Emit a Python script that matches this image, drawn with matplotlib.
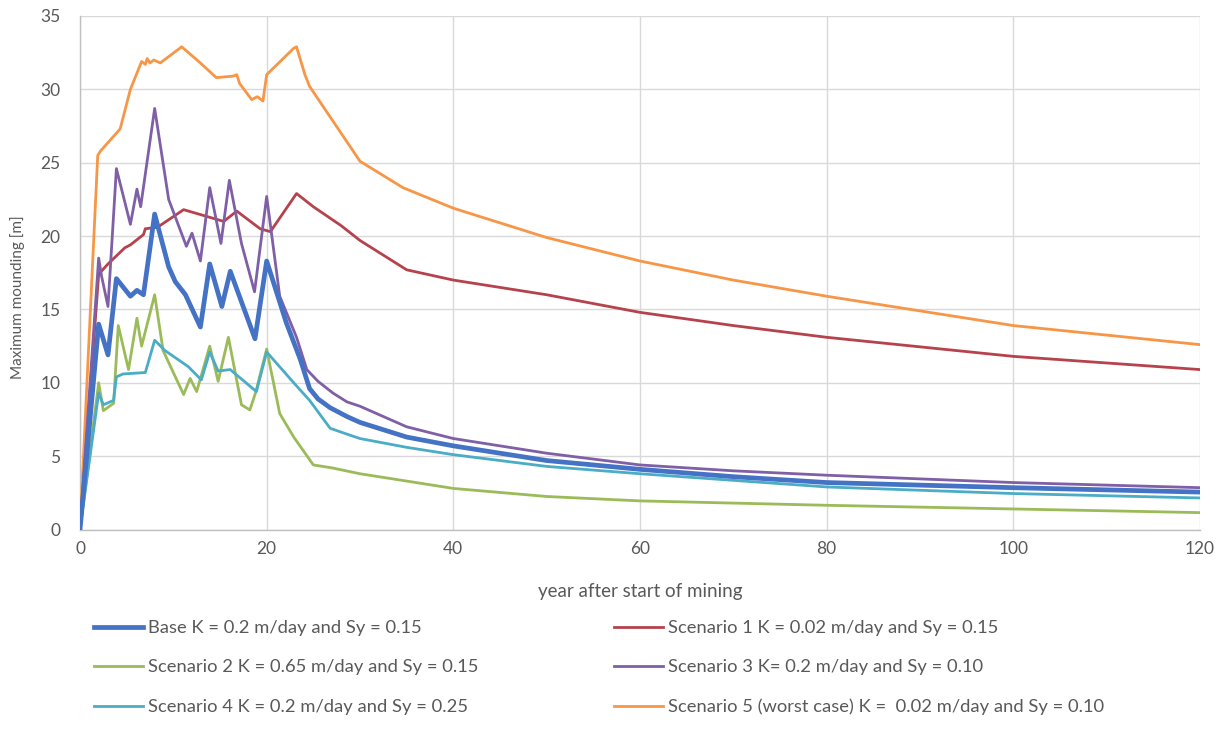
import matplotlib
matplotlib.use("Agg")
import matplotlib.pyplot as plt
from matplotlib.lines import Line2D

# ---------------- data ----------------
base_x = [0, 2.0, 3.0, 3.9, 5.4, 6.1, 6.8, 8.0, 9.5, 10.2, 11.3, 12.9, 13.9, 15.2, 16.1, 18.75, 20.0, 22.1, 23.6, 24.6, 25.5, 26.8, 28.6, 30, 35, 40, 50, 60, 70, 80, 100, 120]
base_y = [0, 14.0, 11.9, 17.1, 15.9, 16.3, 16.0, 21.5, 17.9, 16.9, 16.0, 13.8, 18.1, 15.2, 17.6, 13.0, 18.3, 14.1, 11.6, 9.6, 8.9, 8.3, 7.7, 7.3, 6.3, 5.7, 4.7, 4.1, 3.6, 3.2, 2.85, 2.55]

s1_x = [0, 2.0, 3.0, 4.8, 5.4, 6.8, 7.0, 8.3, 11.1, 15.4, 16.8, 19.3, 20.4, 23.2, 25, 28, 30, 35, 40, 50, 60, 70, 80, 100, 120]
s1_y = [0, 17.4, 18.1, 19.2, 19.4, 20.1, 20.5, 20.6, 21.8, 21.0, 21.7, 20.5, 20.3, 22.9, 22.0, 20.7, 19.7, 17.7, 17.0, 16.0, 14.8, 13.9, 13.1, 11.8, 10.9]

s2_x = [0, 2.0, 2.5, 3.6, 4.1, 5.2, 6.1, 6.6, 8.0, 8.9, 11.1, 11.8, 12.5, 13.9, 14.8, 15.9, 17.3, 18.2, 18.8, 20.0, 21.4, 22.9, 25, 27, 30, 35, 40, 50, 60, 70, 80, 100, 120]
s2_y = [0, 10.0, 8.1, 8.6, 13.9, 10.9, 14.4, 12.5, 16.0, 12.2, 9.2, 10.3, 9.4, 12.5, 10.1, 13.1, 8.5, 8.15, 9.3, 12.3, 7.9, 6.3, 4.4, 4.2, 3.8, 3.3, 2.8, 2.25, 1.95, 1.8, 1.65, 1.4, 1.15]

s3_x = [0, 2.0, 2.3, 3.0, 3.9, 5.4, 6.1, 6.5, 8.0, 9.5, 11.4, 12.0, 12.9, 13.9, 15.1, 16.0, 17.3, 18.7, 20.0, 21.4, 23.2, 24.3, 25.5, 27.1, 28.6, 30, 35, 40, 50, 60, 70, 80, 100, 120]
s3_y = [0, 18.5, 17.3, 15.2, 24.6, 20.8, 23.2, 22.0, 28.7, 22.5, 19.3, 20.2, 18.3, 23.3, 19.5, 23.8, 19.5, 16.2, 22.7, 15.9, 13.1, 10.9, 10.1, 9.3, 8.7, 8.4, 7.0, 6.2, 5.2, 4.4, 4.0, 3.7, 3.2, 2.85]

s4_x = [0, 2.0, 2.5, 3.6, 3.9, 4.6, 7.0, 8.0, 9.1, 11.6, 13.0, 13.9, 14.8, 16.1, 18.9, 20.0, 22.9, 24.6, 26.8, 28.6, 30, 35, 40, 50, 60, 70, 80, 100, 120]
s4_y = [0, 9.3, 8.5, 8.8, 10.4, 10.6, 10.7, 12.9, 12.2, 11.1, 10.2, 12.1, 10.8, 10.9, 9.4, 12.1, 10.0, 8.8, 6.9, 6.5, 6.2, 5.6, 5.1, 4.3, 3.8, 3.35, 2.9, 2.45, 2.15]

s5_x = [0, 1.9, 2.2, 4.3, 5.4, 6.6, 7.0, 7.2, 7.5, 7.9, 8.6, 10.9, 12.9, 14.6, 16.4, 16.8, 17.1, 18.4, 19.0, 19.6, 20.0, 22.9, 23.2, 24.1, 24.6, 30, 34.6, 40, 50, 60, 70, 80, 100, 120]
s5_y = [0, 25.5, 25.8, 27.3, 30.0, 31.9, 31.7, 32.1, 31.8, 32.0, 31.8, 32.9, 31.8, 30.8, 30.9, 31.0, 30.4, 29.3, 29.5, 29.2, 31.0, 32.8, 32.9, 31.0, 30.2, 25.1, 23.3, 21.9, 19.9, 18.3, 17.0, 15.9, 13.9, 12.6]

labels = [
    "Base K = 0.2 m/day and Sy = 0.15",
    "Scenario 1 K = 0.02 m/day and Sy = 0.15",
    "Scenario 2 K = 0.65 m/day and Sy = 0.15",
    "Scenario 3 K= 0.2 m/day and Sy = 0.10",
    "Scenario 4 K = 0.2 m/day and Sy = 0.25",
    "Scenario 5 (worst case) K =  0.02 m/day and Sy = 0.10",
]
x_ticks = [0, 20, 40, 60, 80, 100, 120]
y_ticks = [0, 5, 10, 15, 20, 25, 30, 35]

# ---------------- style ----------------
plt.rcParams['font.family'] = ['Lato', 'DejaVu Sans']
txt = '#595959'
colors = ['#4472C4', '#B5424C', '#9BBB59', '#7F5FA6', '#4BACC6', '#F79646']
widths = [3.4, 2.0, 2.0, 2.0, 2.0, 2.0]

fig = plt.figure(figsize=(12.26, 7.51), dpi=100)
ax = fig.add_axes([80/1226, 1-529.5/751, 1120/1226, 513.5/751])

series = [(base_x, base_y), (s1_x, s1_y), (s2_x, s2_y), (s3_x, s3_y), (s4_x, s4_y), (s5_x, s5_y)]
draw_order = [5, 1, 3, 2, 4, 0]
for i in draw_order:
    xs, ys = series[i]
    ax.plot(xs, ys, color=colors[i], lw=widths[i], solid_joinstyle='round', zorder=3 + (1 if i == 0 else 0))

ax.set_xlim(0, 120)
ax.set_ylim(0, 35)
ax.set_xticks(x_ticks)
ax.set_yticks(y_ticks)
ax.grid(True, color='#D9D9D9', lw=1.0)
ax.set_axisbelow(True)
for s in ['top', 'right']:
    ax.spines[s].set_visible(False)
for s in ['left', 'bottom']:
    ax.spines[s].set_color('#BFBFBF')
    ax.spines[s].set_linewidth(1.0)
ax.tick_params(axis='both', length=0, colors=txt, labelsize=12.5)
ax.tick_params(axis='x', pad=8)
ax.tick_params(axis='y', pad=14)
ax.set_xlabel('year after start of mining', color=txt, fontsize=13.5)
ax.xaxis.set_label_coords(0.5, -(591 - 529.5) / 513.5, transform=ax.transAxes)
ax.xaxis.label.set_va('center')
ax.set_ylabel('Maximum mounding [m]', color=txt, fontsize=11)
ax.yaxis.set_label_coords((18 - 80) / 1120, (529.5 - 297) / 513.5, transform=ax.transAxes)
ax.yaxis.label.set_va('center')

handles = [Line2D([0], [0], color=colors[i], lw=widths[i]) for i in range(6)]
leg_kw = dict(frameon=False, fontsize=13.2, labelcolor=txt, handlelength=2.65,
              handletextpad=0.28, labelspacing=1.28, borderaxespad=0, borderpad=0)
fig.legend([handles[0], handles[2], handles[4]], [labels[0], labels[2], labels[4]],
           loc='upper left', bbox_to_anchor=(94/1226, 1-620/751), **leg_kw)
fig.legend([handles[1], handles[3], handles[5]], [labels[1], labels[3], labels[5]],
           loc='upper left', bbox_to_anchor=(614/1226, 1-620/751), **leg_kw)

fig.savefig('out.png', dpi=100)
